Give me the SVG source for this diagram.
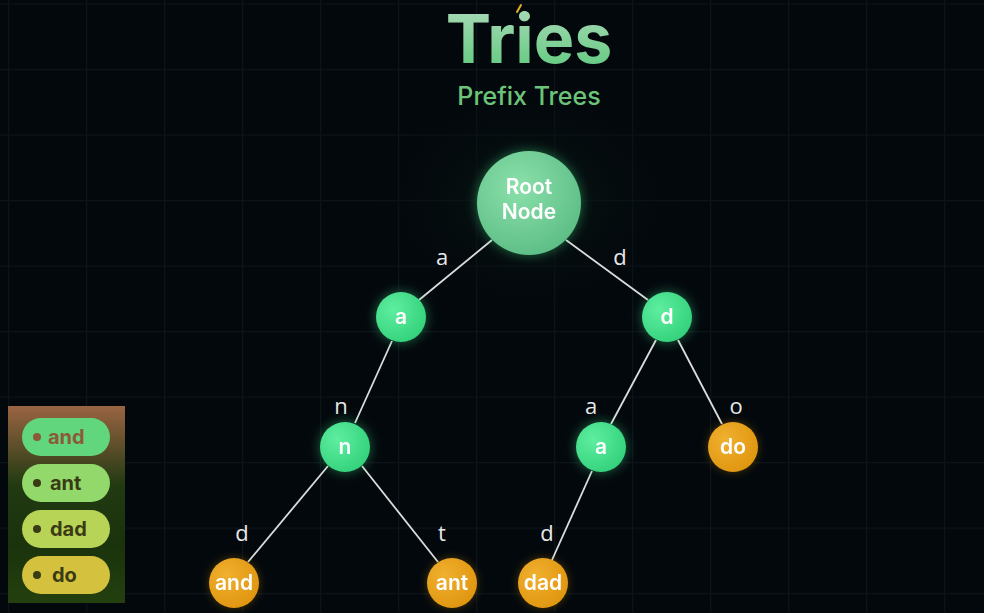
<svg xmlns="http://www.w3.org/2000/svg" width="984" height="613" viewBox="0 0 984 613">
<defs>
<pattern id="grid" x="8" y="3.5" width="78" height="65.5" patternUnits="userSpaceOnUse">
<path d="M0.5 0V65.5M0 0.5H78" stroke="#0c1419" stroke-width="1.5" fill="none"/>
</pattern>
<linearGradient id="titleG" x1="0" y1="0" x2="0" y2="1">
<stop offset="0" stop-color="#b4dcc0"/>
<stop offset="1" stop-color="#58c878"/>
</linearGradient>
<radialGradient id="rootG" cx="0.4" cy="0.35" r="0.7">
<stop offset="0" stop-color="#8be0aa"/>
<stop offset="1" stop-color="#5cbd85"/>
</radialGradient>
<radialGradient id="greenG" cx="0.35" cy="0.35" r="0.7">
<stop offset="0" stop-color="#5eeea0"/>
<stop offset="1" stop-color="#34d27c"/>
</radialGradient>
<radialGradient id="orangeG" cx="0.35" cy="0.35" r="0.7">
<stop offset="0" stop-color="#f0b030"/>
<stop offset="1" stop-color="#e0960f"/>
</radialGradient>
<linearGradient id="legG" x1="0" y1="0" x2="0" y2="1">
<stop offset="0" stop-color="#9a6442"/>
<stop offset="0.4" stop-color="#223a12"/>
<stop offset="0.7" stop-color="#1a330c"/>
<stop offset="1" stop-color="#24400f"/>
</linearGradient>
<radialGradient id="bgGlow" cx="0.5" cy="0.5" r="0.5">
<stop offset="0" stop-color="#0a1a14" stop-opacity="0.9"/>
<stop offset="1" stop-color="#03080c" stop-opacity="0"/>
</radialGradient>
<filter id="glow" x="-60%" y="-60%" width="220%" height="220%">
<feGaussianBlur in="SourceAlpha" stdDeviation="6" result="b"/>
<feFlood flood-color="#3fe08a" flood-opacity="0.45"/>
<feComposite in2="b" operator="in" result="g"/>
<feMerge><feMergeNode in="g"/><feMergeNode in="SourceGraphic"/></feMerge>
</filter>
<filter id="glowO" x="-60%" y="-60%" width="220%" height="220%">
<feGaussianBlur in="SourceAlpha" stdDeviation="4" result="b"/>
<feFlood flood-color="#e8a020" flood-opacity="0.3"/>
<feComposite in2="b" operator="in" result="g"/>
<feMerge><feMergeNode in="g"/><feMergeNode in="SourceGraphic"/></feMerge>
</filter>
</defs>
<style>
.lbl{font-family:"Open Sans","Liberation Sans",sans-serif;font-size:22px;fill:#e8e8e8;text-anchor:middle}
.nt{font-family:"Inter","Liberation Sans",sans-serif;font-size:21px;font-weight:600;fill:#ffffff;text-anchor:middle}
.edge{stroke:#dcdcdc;stroke-width:1.8;fill:none}
.pt{font-family:"Inter","Liberation Sans",sans-serif;font-size:20px;font-weight:700;fill:#3a3a14}
</style>
<rect width="984" height="613" fill="#03080c"/>
<rect width="984" height="613" fill="url(#grid)"/>
<ellipse cx="529" cy="200" rx="160" ry="120" fill="url(#bgGlow)"/>

<g id="title">
<text x="529" y="63" font-family="Inter,'Liberation Sans',sans-serif" font-size="68" font-weight="700" fill="url(#titleG)" text-anchor="middle">Tries</text>
<path d="M517 12 L521 5" stroke="#e8b020" stroke-width="2" stroke-linecap="round"/>
<text x="529" y="105" font-family="Inter,'Liberation Sans',sans-serif" font-size="25" font-weight="500" fill="#6cc47a" text-anchor="middle">Prefix Trees</text>
</g>

<g id="connectors">
<line class="edge" x1="492" y1="240" x2="419" y2="300"/>
<line class="edge" x1="566" y1="240" x2="648" y2="300"/>
<line class="edge" x1="392" y1="341" x2="355" y2="423"/>
<line class="edge" x1="656" y1="340" x2="611" y2="424"/>
<line class="edge" x1="678" y1="340" x2="722" y2="424"/>
<line class="edge" x1="328" y1="466" x2="248" y2="562"/>
<line class="edge" x1="362" y1="466" x2="438" y2="562"/>
<line class="edge" x1="592" y1="471" x2="552" y2="560"/>
<text class="lbl" x="442" y="265">a</text>
<text class="lbl" x="620" y="265">d</text>
<text class="lbl" x="341" y="414">n</text>
<text class="lbl" x="591" y="414">a</text>
<text class="lbl" x="736" y="414">o</text>
<text class="lbl" x="242" y="541">d</text>
<text class="lbl" x="442" y="541">t</text>
<text class="lbl" x="547" y="541">d</text>
</g>

<g id="node-root" filter="url(#glow)">
<circle cx="529" cy="203" r="52" fill="url(#rootG)"/>
<text class="nt" x="529" y="194" font-size="19" font-weight="800">Root</text>
<text class="nt" x="529" y="219" font-size="19" font-weight="800">Node</text>
</g>
<g id="node-a" filter="url(#glow)">
<circle cx="401" cy="317" r="25" fill="url(#greenG)"/>
<text class="nt" x="401" y="324">a</text>
</g>
<g id="node-d" filter="url(#glow)">
<circle cx="667" cy="317" r="25" fill="url(#greenG)"/>
<text class="nt" x="667" y="324">d</text>
</g>
<g id="node-an" filter="url(#glow)">
<circle cx="345" cy="447" r="25" fill="url(#greenG)"/>
<text class="nt" x="345" y="454">n</text>
</g>
<g id="node-da" filter="url(#glow)">
<circle cx="601" cy="447" r="25" fill="url(#greenG)"/>
<text class="nt" x="601" y="454">a</text>
</g>
<g id="node-do" filter="url(#glowO)">
<circle cx="733" cy="447" r="25" fill="url(#orangeG)"/>
<text class="nt" x="733" y="454">do</text>
</g>
<g id="node-and" filter="url(#glowO)">
<circle cx="234" cy="583" r="25" fill="url(#orangeG)"/>
<text class="nt" x="234" y="590" font-weight="500">and</text>
</g>
<g id="node-ant" filter="url(#glowO)">
<circle cx="452" cy="583" r="25" fill="url(#orangeG)"/>
<text class="nt" x="452" y="590" font-weight="500">ant</text>
</g>
<g id="node-dad" filter="url(#glowO)">
<circle cx="543" cy="583" r="25" fill="url(#orangeG)"/>
<text class="nt" x="543" y="590" font-weight="500">dad</text>
</g>

<g id="legend">
<rect x="8" y="406" width="117" height="197" fill="url(#legG)"/>
<rect x="22" y="418" width="88" height="38" rx="19" fill="#62d67c"/>
<circle cx="37" cy="437" r="4" fill="#8a5a3a"/>
<text class="pt" x="48" y="444" style="fill:#8a5a3a">and</text>
<rect x="22" y="464" width="88" height="38" rx="19" fill="#92d86a"/>
<circle cx="37" cy="483" r="4" fill="#3a3a14"/>
<text class="pt" x="50" y="490">ant</text>
<rect x="22" y="510" width="88" height="38" rx="19" fill="#b8d456"/>
<circle cx="37" cy="529" r="4" fill="#3a3a14"/>
<text class="pt" x="50" y="536">dad</text>
<rect x="22" y="556" width="88" height="38" rx="19" fill="#d4c23e"/>
<circle cx="37" cy="575" r="4" fill="#3a3a14"/>
<text class="pt" x="52" y="582">do</text>
</g>
</svg>
